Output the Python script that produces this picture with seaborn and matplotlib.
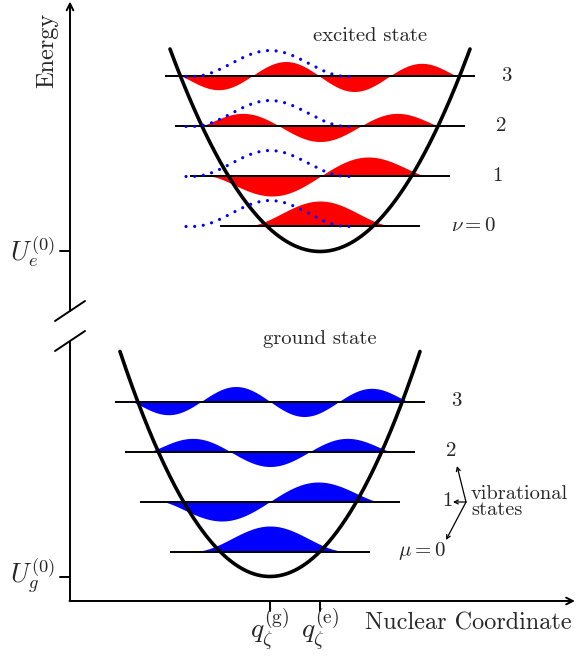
import numpy as np
import pandas as pd
import matplotlib
matplotlib.use("Agg")
import matplotlib.pyplot as plt
from matplotlib.patches import FancyArrowPatch
import seaborn as sns

# Energies in units of hbar*omega, nuclear coordinate in oscillator lengths.
state_names = ["ground", "excited"]
well_center = [0.0, 1.0]          # q_zeta^(g), q_zeta^(e)
well_minimum = [0.0, 6.5]         # U_g^(0), U_e^(0)
well_curvature = [0.5, 0.45]
well_halfwidth = [3.0, 3.0]
well_fill = ["#0000ff", "#ff0000"]
state_titles = ["ground state", "excited state"]
level_labels = [["$\\mu=0$", "1", "2", "3"], ["$\\nu=0$", "1", "2", "3"]]

quanta = [0, 1, 2, 3]
level_halfwidth = [2.0, 2.6, 2.9, 3.1]
wave_halfwidth = [1.55, 2.16, 2.4, 2.76]
wave_amplitude = [0.51, 0.39, 0.30, 0.30]
wave_taper = [1.0, 0.4, 0.2, 0.15]
label_offset = [3.52, 3.54, 3.62, 3.72]

overlap_halfspan = 1.68
overlap_amplitude = 0.52

axis_x = -4.0
axis_y = -0.49

sns.set_theme(style="white")
plt.rcParams["mathtext.fontset"] = "cm"
plt.rcParams["font.family"] = ["cmr10", "DejaVu Serif"]
plt.rcParams["axes.formatter.use_mathtext"] = True


def wavefunction(n, x):
    """Vibrational wavefunction shape with n nodes, peak magnitude 1."""
    W = wave_halfwidth[n]
    q = wave_taper[n]

    def raw(t):
        theta = np.pi * np.clip((t + W) / (2 * W), 0, 1)
        return (-1) ** n * np.sin((n + 1) * theta) * np.abs(np.sin(theta)) ** q

    dense = np.linspace(-W, W, 2001)
    return raw(x) / np.abs(raw(dense)).max()


def arrow(ax, start, end, lw, scale):
    ax.add_patch(FancyArrowPatch(start, end, arrowstyle="->", lw=lw,
                                 mutation_scale=scale, shrinkA=0, shrinkB=0,
                                 color="black", zorder=5))


fig = plt.figure(figsize=(5.78, 6.62), dpi=100)
ax = fig.add_axes([0, 0, 1, 1])
ax.set_xlim(-5.4, 6.16)
ax.set_ylim(-1.71, 11.53)
ax.set_axis_off()

for s, name in enumerate(state_names):
    c, U, k = well_center[s], well_minimum[s], well_curvature[s]
    for n in quanta:
        E = U + n + 0.5
        W = wave_halfwidth[n]
        t = np.linspace(-W, W, 600)
        ax.fill_between(c + t, E, E + wave_amplitude[n] * wavefunction(n, t),
                        color=well_fill[s], lw=0, zorder=1)
        ax.hlines(E, c - level_halfwidth[n], c + level_halfwidth[n],
                  color="black", lw=1.4, zorder=2)
        lab = level_labels[s][n]
        ax.text(c + label_offset[n], E, lab, fontsize=15,
                ha="right" if n == 0 else "center", va="center")

    xs = np.linspace(-well_halfwidth[s], well_halfwidth[s], 400)
    curve = pd.DataFrame({"q": c + xs, "V": U + k * xs ** 2})
    sns.lineplot(data=curve, x="q", y="V", ax=ax, color="black", lw=2.6,
                 sort=False, estimator=None, zorder=3)
    ax.text(c + 1.0, U + k * 9 + 0.15, state_titles[s], fontsize=14.8,
            ha="center", va="baseline")

# ground-state v=0 wavefunction overlaid on each excited level
tg = np.linspace(-overlap_halfspan, overlap_halfspan, 400)
g0 = np.where(np.abs(tg) <= wave_halfwidth[0], wavefunction(0, tg), 0.0)
for n in quanta:
    E = well_minimum[1] + n + 0.5
    ax.plot(well_center[0] + tg, E + overlap_amplitude * g0, color="#0000ff",
            lw=2.3, linestyle=(0, (0.01, 2.7)), dash_capstyle="round",
            zorder=4)

# broken energy axis
ax.plot([axis_x, axis_x], [axis_y, 4.71], color="black", lw=1.4,
        solid_capstyle="butt")
arrow(ax, (axis_x, 5.31), (axis_x, 11.5), 1.4, 12)
arrow(ax, (axis_x - 0.01, axis_y), (6.1, axis_y), 1.4, 12)
for yb in [5.31, 4.71]:
    ax.plot([axis_x - 0.3, axis_x + 0.3], [yb - 0.2, yb + 0.2],
            color="black", lw=1.4)

# energy ticks
for U, lab in zip(well_minimum, ["$U_g^{(0)}$", "$U_e^{(0)}$"]):
    ax.plot([axis_x - 0.2, axis_x], [U, U], color="black", lw=1.4)
    ax.text(axis_x - 0.3, U, lab, fontsize=19, ha="right", va="center")

# coordinate ticks
for c, lab in zip(well_center, ["$q_\\zeta^{(\\mathrm{g})}$",
                                "$q_\\zeta^{(\\mathrm{e})}$"]):
    ax.plot([c, c], [axis_y, axis_y - 0.2], color="black", lw=1.4)
    ax.text(c, axis_y - 0.1, lab, fontsize=20, ha="center", va="top")

ax.text(axis_x - 0.46, 10.53, "Energy", fontsize=17.5, rotation=90,
        ha="center", va="center")
ax.text(1.9, -1.05, "Nuclear Coordinate", fontsize=17.5, ha="left",
        va="baseline")

# vibrational-states annotation
vertex = (3.92, 1.49)
for tip in [(3.74, 2.21), (3.66, 1.49), (3.52, 0.73)]:
    arrow(ax, vertex, tip, 0.9, 7)
ax.text(4.02, 1.49, "vibrational\nstates", fontsize=14.7, ha="left",
        va="center", linespacing=0.85)

fig.savefig("out.png", dpi=100)
